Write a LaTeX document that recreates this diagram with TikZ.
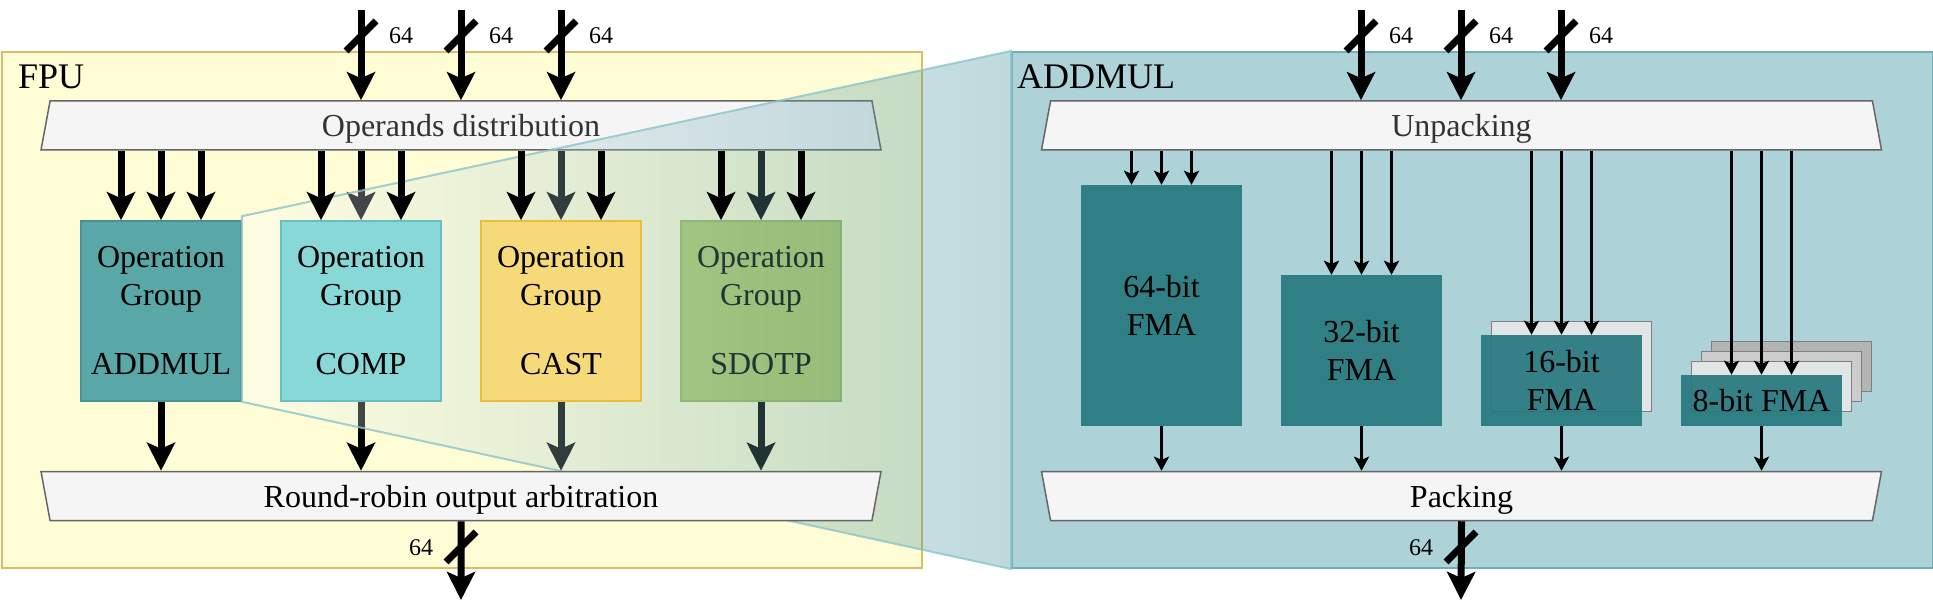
\documentclass[tikz,border=0pt]{standalone}
\usepackage{fontspec}
\setmainfont{Liberation Serif}
\usetikzlibrary{arrows.meta,shapes.geometric}

\definecolor{fpufill}{HTML}{FFFDD6}
\definecolor{fpuline}{HTML}{D9BE66}
\definecolor{amfill}{HTML}{ADD3D8}
\definecolor{amline}{HTML}{72AEB8}
\definecolor{trapfill}{HTML}{F5F5F5}
\definecolor{trapline}{HTML}{666666}
\definecolor{trapfont}{HTML}{333333}
\definecolor{gaddmul}{HTML}{5AA7A7}
\definecolor{gaddmulline}{HTML}{4A9393}
\definecolor{gcomp}{HTML}{88D8D8}
\definecolor{gcompline}{HTML}{6BBEBE}
\definecolor{gcast}{HTML}{F6DA7A}
\definecolor{gcastline}{HTML}{E8BE3A}
\definecolor{gsdotp}{HTML}{B0CB66}
\definecolor{gsdotpline}{HTML}{98B860}
\definecolor{zoomteal}{HTML}{28818C}
\definecolor{zoomline}{HTML}{8CC4CA}
\definecolor{fmafill}{HTML}{23767C}
\definecolor{lane1}{HTML}{E2E5E6}
\definecolor{lane2}{HTML}{CCCCCC}
\definecolor{lane3}{HTML}{B3B5B5}
\definecolor{laneline}{HTML}{7F7F7F}

\pgfdeclarelayer{front}
\pgfsetlayers{main,front}

\tikzset{
  bus/.style={line width=7pt, -{Stealth[length=28pt,width=28pt,inset=6pt]}},
  wire/.style={line width=3pt, -{Stealth[length=14pt,width=15pt,inset=3pt]}},
  slash/.style={line width=7pt},
  buslabel/.style={font=\fontsize{24}{28}\selectfont, inner sep=0pt},
  title/.style={font=\fontsize{36}{40}\selectfont, inner sep=0pt, anchor=base west},
  trap/.style={trapezium, trapezium angle=67.8, trapezium stretches body,
    draw=trapline, fill=trapfill, line width=1.5pt, minimum width=840pt,
    minimum height=49pt, inner sep=0pt, text depth=0pt, font=\fontsize{32}{37}\selectfont},
  opgroup/.style={minimum width=160pt, minimum height=180pt, line width=1.5pt,
    inner sep=0pt, align=center, font=\fontsize{32}{38}\selectfont,
    execute at begin node=\rule{0pt}{28pt}},
  fma/.style={fill=fmafill, fill opacity=0.9, text opacity=1, inner sep=0pt,
    align=center, font=\fontsize{32}{38}\selectfont, minimum width=161pt},
  lane/.style={draw=laneline, line width=1.5pt, minimum width=160pt, inner sep=0pt},
}

\begin{document}
\begin{tikzpicture}[x=1pt,y=-1pt]
\useasboundingbox (0,0) rectangle (1933,615);

% containers
\node[draw=fpuline, fill=fpufill, line width=2pt, minimum width=920pt,
  minimum height=516pt, anchor=north west, inner sep=0pt] (fpu) at (1,51) {};
\node[title] (fputitle) at (18,89) {FPU};
\node[draw=amline, fill=amfill, line width=2pt, minimum width=921pt,
  minimum height=516pt, anchor=north west, inner sep=0pt] (am) at (1011,51) {};
\node[title] (amtitle) at (1017,89) {ADDMUL};

% FPU
\node[trap, text=trapfont] (opdist) at (461,125.5) {Operands distribution};
\node[opgroup, fill=gaddmul, draw=gaddmulline] (gaddmul) at (161,311) {Operation\\Group\\[31pt]ADDMUL};
\begin{pgfonlayer}{front}
\node[opgroup, fill=gcomp, draw=gcompline] (gcomp) at (361,311) {Operation\\Group\\[31pt]COMP};
\node[opgroup, fill=gcast, draw=gcastline] (gcast) at (561,311) {Operation\\Group\\[31pt]CAST};
\node[trap, shape border rotate=180] (rr) at (461,496) {Round-robin output arbitration};
\end{pgfonlayer}
\node[opgroup, fill=gsdotp, draw=gsdotpline] (gsdotp) at (761,311) {Operation\\Group\\[31pt]SDOTP};

\foreach \x in {361,461,561} {
  \coordinate (in\x) at (\x,10);
  \draw[bus] (in\x) -- (in\x |- opdist.north);
  \draw[slash] (\x-15,51) -- (\x+15,21);
  \node[buslabel] (w\x) at (\x+40,36) {64};
}

% middle lanes, under the zoom
\foreach \g in {gaddmul,gcomp,gcast,gsdotp} {
  \draw[bus] (opdist.south -| \g.north) -- (\g.north);
  \draw[bus] (\g.south) -- (rr.north -| \g.south);
}

% zoom on ADDMUL
\path[draw=zoomline, line width=2pt, left color=white, right color=zoomteal,
  fill opacity=0.3, draw opacity=0.8]
  ([yshift=4pt]gaddmul.north east) -- (am.north west) -- (am.south west)
  -- (gaddmul.south east) -- cycle;

\begin{pgfonlayer}{front}
\foreach \g in {gaddmul,gcomp,gcast,gsdotp}
  \foreach \dx in {-40,40}
    \draw[bus] ([xshift=\dx pt]opdist.south -| \g.north) -- ([xshift=\dx pt]\g.north);
\coordinate (fpuout) at (461,600);
\draw[bus] (rr.south) -- (fpuout);
\draw[slash] (446,562) -- (476,532);
\node[buslabel] (wout) at (421,548) {64};
\end{pgfonlayer}

% ADDMUL
\node[trap, text=trapfont] (unpack) at (1461.5,125.5) {Unpacking};
\node[trap, shape border rotate=180] (pack) at (1461.5,496) {Packing};
\node[fma, minimum height=241pt] (f64) at (1161.5,305.5) {64-bit\\FMA};
\node[fma, minimum height=151pt] (f32) at (1361.5,350.5) {32-bit\\FMA};
\node[lane, fill=lane1, minimum height=90pt] (f16b) at (1571.5,366.5) {};
\node[fma, minimum height=91pt] (f16) at (1561.5,380.5) {16-bit\\FMA};
\node[lane, fill=lane3, minimum height=50pt] (f8c) at (1791.5,366.5) {};
\node[lane, fill=lane2, minimum height=50pt] (f8b) at (1781.5,376.5) {};
\node[lane, fill=lane1, minimum height=50pt] (f8a) at (1771.5,386.5) {};
\node[fma, minimum height=51pt] (f8) at (1761.5,400.5) {8-bit FMA};

\foreach \f in {f64,f32,f16,f8} {
  \foreach \dx in {-30,0,30}
    \draw[wire] ([xshift=\dx pt]unpack.south -| \f.north) -- ([xshift=\dx pt]\f.north);
  \draw[wire] (\f.south) -- (pack.north -| \f.south);
}

\foreach \x in {1361,1461,1561} {
  \coordinate (in\x) at (\x,10);
  \draw[bus] (in\x) -- (in\x |- unpack.north);
  \draw[slash] (\x-15,51) -- (\x+15,21);
  \node[buslabel] (w\x) at (\x+40,36) {64};
}
\coordinate (amout) at (1461,600);
\draw[bus] (pack.south) -- (amout);
\draw[slash] (1446,562) -- (1476,532);
\node[buslabel] (wamout) at (1421,548) {64};
\end{tikzpicture}
\end{document}
